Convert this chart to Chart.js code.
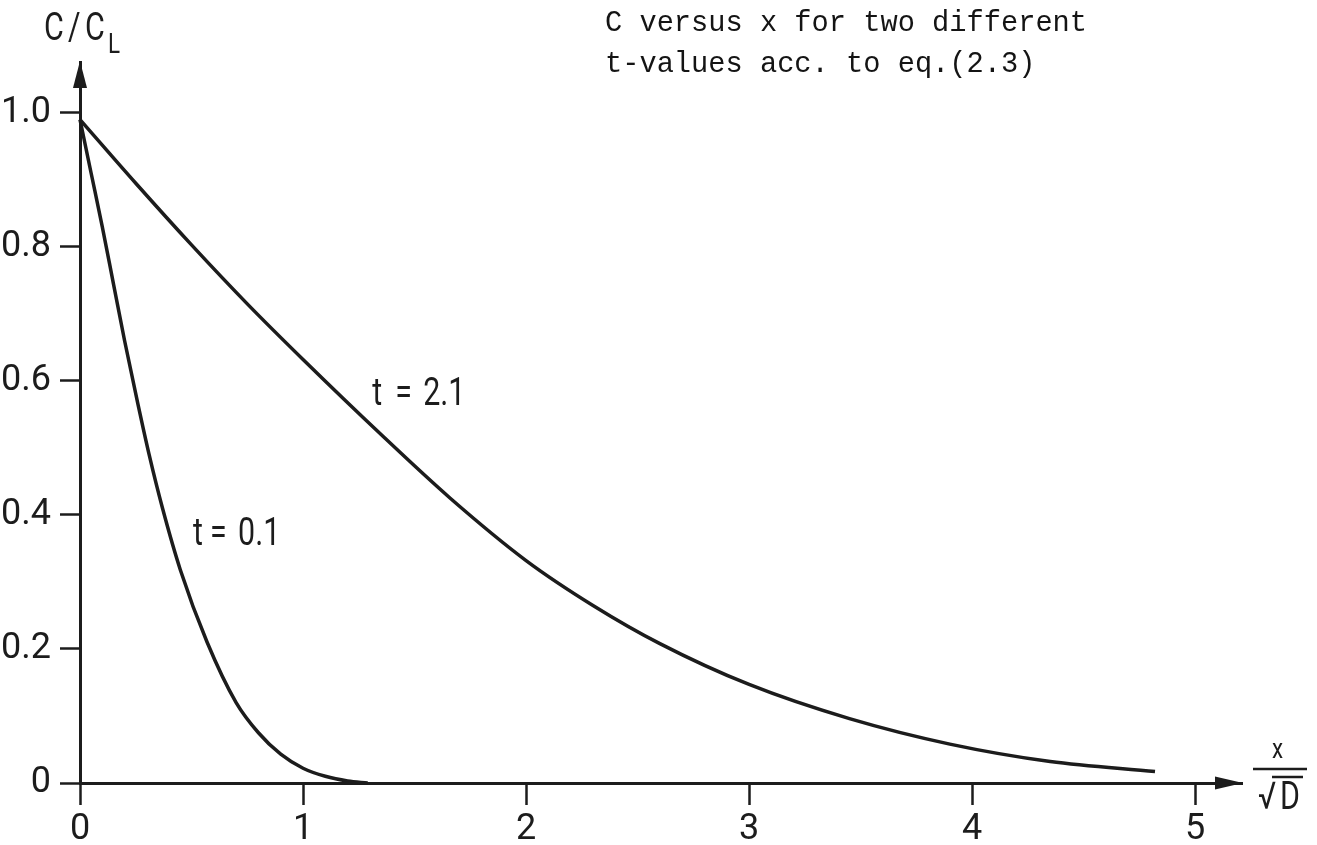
<!DOCTYPE html>
<html>
<head>
<meta charset="utf-8">
<script src="https://cdn.jsdelivr.net/npm/chart.js@4.4.1/dist/chart.umd.min.js"></script>
<style>
  html, body { margin: 0; padding: 0; background: #fff; }
  #wrap { width: 1317px; height: 845px; position: relative; }
</style>
</head>
<body>
<div id="wrap"><canvas id="chart"></canvas></div>
<script>
// values (x / sqrt(D) against C / C_L)
const xTicks = [0, 1, 2, 3, 4, 5];
const yTicks = [0, 0.2, 0.4, 0.6, 0.8, 1.0];

// t = 2.1
const xLate = [0, 0.25, 0.5, 0.75, 1.0, 1.35, 1.66, 2.0, 2.3, 2.6, 3.0, 3.45, 3.9, 4.35, 4.82];
const cLate = [0.99, 0.895, 0.803, 0.715, 0.632, 0.52, 0.425, 0.332, 0.265, 0.208, 0.147, 0.096, 0.058, 0.032, 0.017];

// t = 0.1
const xEarly = [0, 0.05, 0.1, 0.15, 0.2, 0.26, 0.31, 0.37, 0.45, 0.57, 0.7, 0.8, 0.9, 1.0, 1.1, 1.2, 1.29];
const cEarly = [0.99, 0.91, 0.83, 0.745, 0.66, 0.565, 0.49, 0.41, 0.318, 0.21, 0.12, 0.075, 0.043, 0.022, 0.01, 0.003, 0.0];

const ink = '#1c1c1c';
const sans = "Roboto, 'Liberation Sans', sans-serif";

function pts(xs, ys) {
    return xs.map((x, i) => ({ x: x, y: ys[i] }));
}

// narrow lettering like the stencil text of the original
function narrowText(ctx, str, x, y, size) {
    ctx.save();
    ctx.font = size + 'px ' + sans;
    ctx.translate(x, y);
    ctx.scale(0.8, 1);
    ctx.fillText(str, 0, 0);
    ctx.restore();
}

const notes = {
    id: 'notes',
    afterDraw(chart) {
        const { ctx, chartArea: a, scales: { x, y } } = chart;
        const x0 = x.getPixelForValue(0);
        const y0 = y.getPixelForValue(0);
        ctx.save();
        ctx.fillStyle = ink;
        ctx.strokeStyle = ink;

        // arrow heads
        ctx.beginPath();
        ctx.moveTo(a.right + 1, y0);
        ctx.lineTo(a.right - 27, y0 - 6.5);
        ctx.lineTo(a.right - 27, y0 + 6.5);
        ctx.closePath();
        ctx.fill();
        ctx.beginPath();
        ctx.moveTo(x0, a.top - 1);
        ctx.lineTo(x0 - 7, a.top + 26);
        ctx.lineTo(x0 + 7, a.top + 26);
        ctx.closePath();
        ctx.fill();

        // curve labels
        ctx.textBaseline = 'alphabetic';
        ctx.textAlign = 'left';
        let lx = x.getPixelForValue(1.31), ly = y.getPixelForValue(0.585) + 14;
        narrowText(ctx, 't', lx, ly, 38);
        narrowText(ctx, '=', lx + 23, ly, 38);
        narrowText(ctx, '2.1', lx + 51, ly, 38);
        lx = x.getPixelForValue(0.507); ly = y.getPixelForValue(0.376) + 14;
        narrowText(ctx, 't', lx, ly, 38);
        narrowText(ctx, '=', lx + 17, ly, 38);
        narrowText(ctx, '0.1', lx + 45, ly, 38);

        // y axis title C / C_L
        narrowText(ctx, 'C', 44, 40, 38);
        narrowText(ctx, '/', 68, 40, 38);
        narrowText(ctx, 'C', 85, 40, 38);
        narrowText(ctx, 'L', 108, 53, 28);

        // x axis title x / sqrt(D)
        narrowText(ctx, 'x', 1272, 758, 28);
        ctx.lineWidth = 2.5;
        ctx.beginPath();
        ctx.moveTo(1253, 769);
        ctx.lineTo(1307, 769);
        ctx.stroke();
        narrowText(ctx, '\u221A', 1258, 809, 38);
        narrowText(ctx, 'D', 1280, 809, 38);
        ctx.beginPath();
        ctx.moveTo(1272, 777);
        ctx.lineTo(1303, 777);
        ctx.stroke();

        // typed caption
        ctx.fillStyle = '#141414';
        ctx.font = '28.7px "Liberation Mono", "DejaVu Sans Mono", monospace';
        ctx.fillText('C versus x for two different', 605, 31);
        ctx.fillText('t-values acc. to eq.(2.3)', 605, 72);
        ctx.restore();
    }
};

const ctx = document.getElementById('chart').getContext('2d');
new Chart(ctx, {
    type: 'line',
    data: {
        datasets: [
            {
                label: 't = 2.1',
                data: pts(xLate, cLate),
                borderColor: ink,
                borderWidth: 3.5,
                pointRadius: 0,
                cubicInterpolationMode: 'monotone',
                fill: false,
                clip: false
            },
            {
                label: 't = 0.1',
                data: pts(xEarly, cEarly),
                borderColor: ink,
                borderWidth: 3.5,
                pointRadius: 0,
                cubicInterpolationMode: 'monotone',
                fill: false,
                clip: false
            }
        ]
    },
    options: {
        responsive: true,
        maintainAspectRatio: false,
        animation: false,
        layout: { padding: { top: 62, right: 75, left: 0, bottom: 0 } },
        plugins: {
            legend: { display: false },
            tooltip: { enabled: false }
        },
        scales: {
            x: {
                type: 'linear',
                min: 0,
                max: 5.21,
                afterBuildTicks: s => { s.ticks = xTicks.map(v => ({ value: v })); },
                afterFit: s => { s.height = 62; },
                grid: { display: true, drawOnChartArea: false, drawTicks: true, tickLength: 22, tickWidth: 2.5, tickColor: ink },
                border: { display: true, color: ink, width: 3 },
                ticks: {
                    color: ink,
                    font: { family: sans, size: 36 },
                    padding: 3,
                    maxRotation: 0,
                    autoSkip: false,
                    callback: v => String(v)
                }
            },
            y: {
                type: 'linear',
                min: 0,
                max: 1.076,
                afterBuildTicks: s => { s.ticks = yTicks.map(v => ({ value: v })); },
                afterFit: s => { s.width = 80; },
                grid: { display: true, drawOnChartArea: false, drawTicks: true, tickLength: 20, tickWidth: 2.5, tickColor: ink },
                border: { display: true, color: ink, width: 3 },
                ticks: {
                    color: ink,
                    font: { family: sans, size: 36 },
                    padding: 9,
                    autoSkip: false,
                    callback: v => (v === 0 ? '0' : v.toFixed(1))
                }
            }
        }
    },
    plugins: [notes]
});
</script>
</body>
</html>
